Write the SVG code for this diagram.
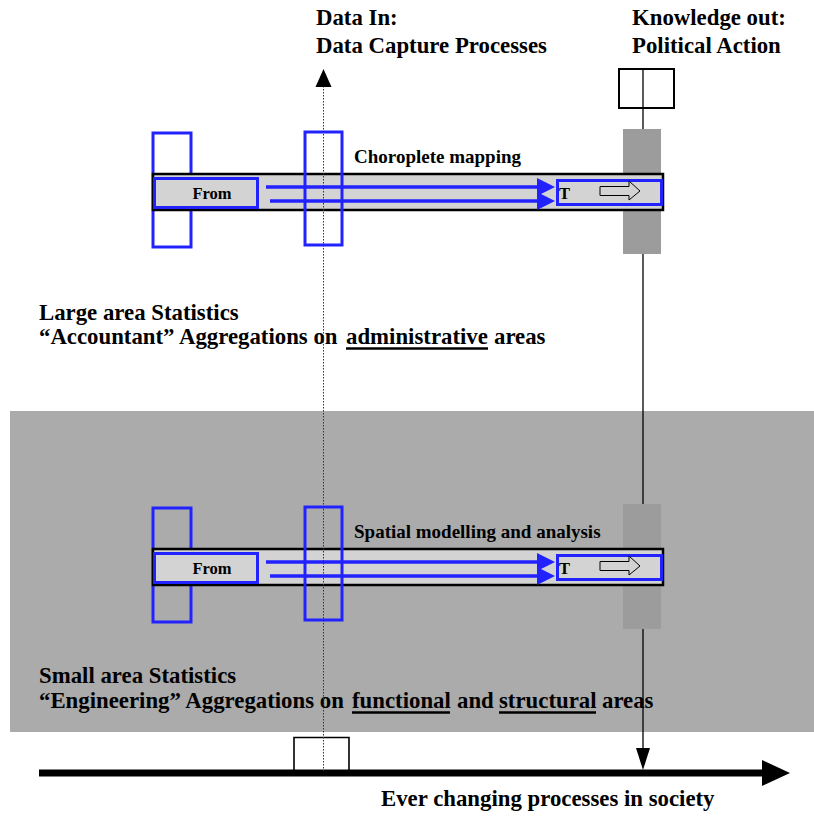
<svg xmlns="http://www.w3.org/2000/svg" width="814" height="816" viewBox="0 0 814 816">
  <style>
    .lbl { font-family: "Liberation Serif", "Times New Roman", serif; font-weight: bold; fill: #000; }
    .big { font-size: 22.8px; }
    .mid { font-size: 19px; }
    .sm { font-size: 16.5px; }
    .tube { fill: #d3d3d3; stroke: #000; stroke-width: 2.5; }
    .blue { fill: none; stroke: #2222ff; stroke-width: 3; }
    .bluef { fill: #d3d3d3; stroke: #2222ff; stroke-width: 3; }
    .flow { stroke: #2222ff; stroke-width: 3.5; fill: none; }
    .bar { fill: #9c9c9c; }
    .ul { stroke: #000; stroke-width: 2.6; }
    .dot { stroke: #333; stroke-width: 1; stroke-dasharray: 1.5 1.5; fill: none; }
  </style>
  <defs>
    <marker id="blueHead" markerUnits="userSpaceOnUse" markerWidth="18" markerHeight="18" refX="0" refY="8" orient="auto" viewBox="0 0 16 16">
      <path d="M0,0 L16,8 L0,16 Z" fill="#2222ff"/>
    </marker>
    <g id="tubeUnit">
      <!-- side post behind the tube -->
      <rect class="blue" x="153" y="133" width="38" height="114"/>
      <!-- output slot -->
      <rect class="bar" x="623" y="129" width="38" height="125"/>
      <rect class="tube" x="153" y="174" width="510" height="36"/>
      <rect class="bluef" x="154.5" y="178.5" width="103" height="29"/>
      <text class="lbl sm" x="212" y="199" text-anchor="middle">From</text>
      <rect class="blue" x="305" y="132" width="37" height="113"/>
      <line class="flow" x1="266" y1="187" x2="537" y2="187" marker-end="url(#blueHead)"/>
      <line class="flow" x1="270" y1="201" x2="537" y2="201" marker-end="url(#blueHead)"/>
      <rect class="blue" x="557.5" y="180.5" width="104" height="24"/>
      <text class="lbl sm" x="559" y="199">T</text>
      <path d="M600,186.5 L629,186.5 L629,181 L640,191 L629,200 L629,195.5 L600,195.5 Z" fill="none" stroke="#000" stroke-width="1"/>
    </g>
  </defs>

  <!-- background band for small area statistics -->
  <rect id="small-area-band" x="10" y="411" width="804" height="321" fill="#ababab"/>

  <!-- headings -->
  <g id="data-in">
    <text class="lbl big" x="316" y="25">Data In:</text>
    <text class="lbl big" x="316" y="53">Data Capture Processes</text>
  </g>
  <g id="knowledge-out">
    <text class="lbl big" x="632" y="25">Knowledge out:</text>
    <text class="lbl big" x="632" y="53">Political Action</text>
    <rect x="619" y="69" width="55" height="39" fill="#fff" stroke="#000" stroke-width="2"/>
  </g>

  <g id="connectors">
    <!-- political action line down to society timeline -->
    <line x1="643" y1="69" x2="643" y2="750" stroke="#000" stroke-width="1.3"/>
    <path d="M636,748 L650,748 L643,770 Z" fill="#000"/>
  </g>

  <!-- large area statistics process -->
  <g id="large-area">
    <use href="#tubeUnit"/>
    <text class="lbl mid" x="354" y="163">Choroplete mapping</text>
    <text class="lbl big" x="39" y="320">Large area Statistics</text>
    <text class="lbl big" y="344"><tspan x="39">“Accountant” Aggregations on</tspan><tspan x="346">administrative</tspan><tspan x="494">areas</tspan></text>
    <line class="ul" x1="346" y1="348.5" x2="488" y2="348.5"/>
  </g>

  <!-- small area statistics process -->
  <g id="small-area">
    <use href="#tubeUnit" transform="translate(0,375)"/>
    <text class="lbl mid" x="354" y="538">Spatial modelling and analysis</text>
    <text class="lbl big" x="39" y="683">Small area Statistics</text>
    <text class="lbl big" y="708"><tspan x="39">“Engineering” Aggregations on</tspan><tspan x="352">functional</tspan><tspan x="457">and</tspan><tspan x="499">structural</tspan><tspan x="602">areas</tspan></text>
    <line class="ul" x1="352" y1="712.5" x2="450" y2="712.5"/>
    <line class="ul" x1="499" y1="712.5" x2="596" y2="712.5"/>
  </g>

  <!-- society timeline -->
  <g id="society">
    <path d="M294,773 L294,737.5 L349,737.5 L349,773" fill="#fff" stroke="#000" stroke-width="1.6"/>
    <line x1="39" y1="773" x2="765" y2="773" stroke="#000" stroke-width="7"/>
    <path d="M762,760 L790,773 L762,786 Z" fill="#000"/>
    <text class="lbl big" x="381" y="806">Ever changing processes in society</text>
  </g>

  <!-- data capture axis -->
  <g id="data-axis">
    <line class="dot" x1="323.5" y1="86" x2="323.5" y2="771"/>
    <path d="M315.5,87 L323.5,69 L331.5,87 Z" fill="#000"/>
  </g>
</svg>
